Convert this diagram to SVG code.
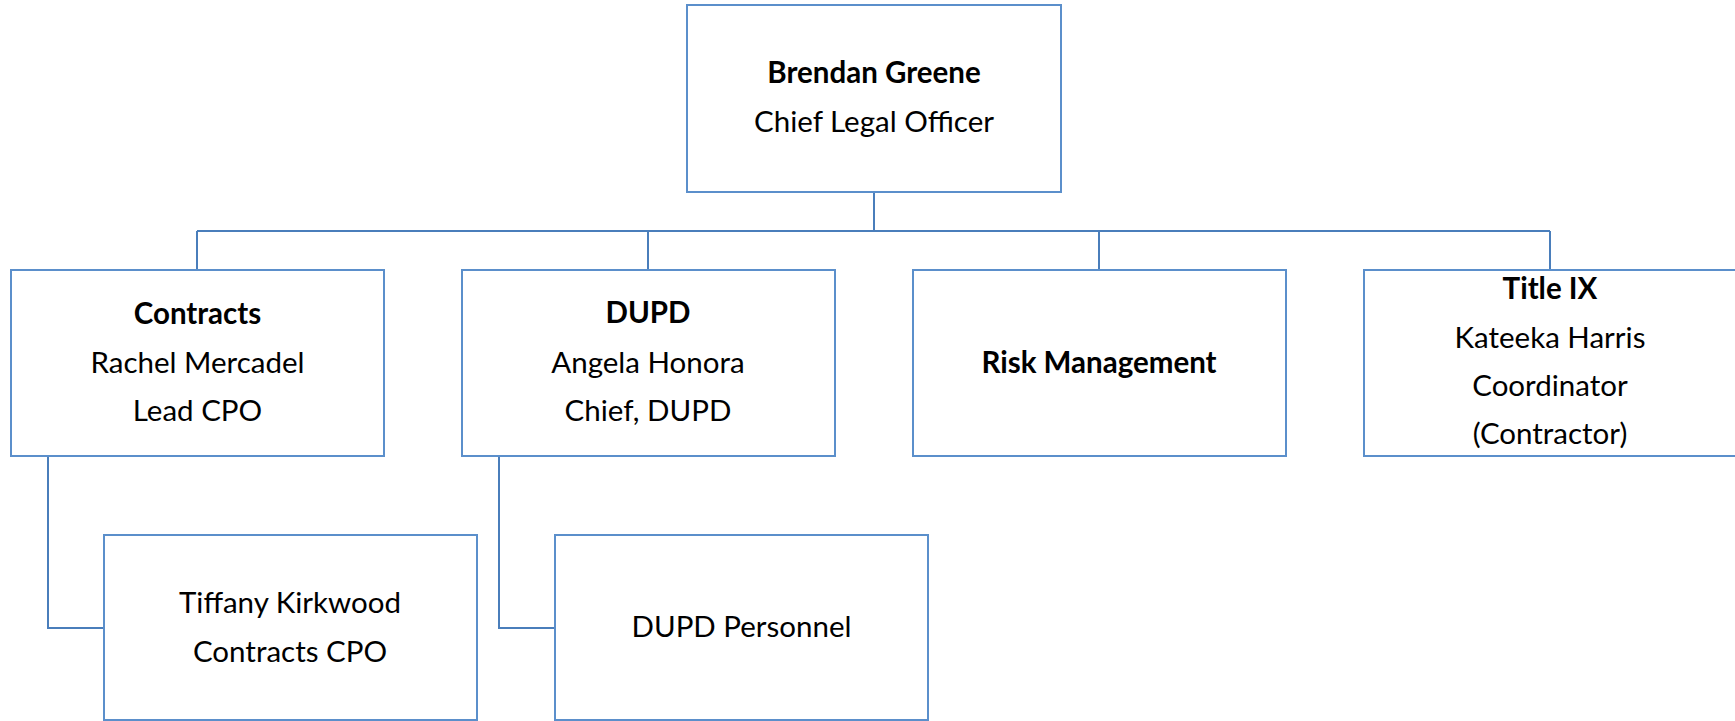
<svg xmlns="http://www.w3.org/2000/svg" width="1735" height="721" viewBox="0 0 1735 721">
<style>
.box{fill:#fff;stroke:#5b8fcb;stroke-width:2}
.con{fill:none;stroke:#4a7ebb;stroke-width:2}
text{font-family:Lato,"Liberation Sans",sans-serif;font-size:29.5px;fill:#000;text-anchor:middle}
.b{font-weight:bold}
</style>
<rect width="1735" height="721" fill="#fff"/>
<g id="connectors">
<path class="con" d="M874 192V231M197 231H1550M197 231V270M648 231V270M1099 231V270M1550 231V270"/>
<path class="con" d="M48 456V628H104"/>
<path class="con" d="M499 456V628H555"/>
</g>
<g id="brendan-greene">
<rect class="box" x="687" y="5" width="374" height="187"/>
<text class="b" x="874" y="83">Brendan Greene</text>
<text x="874" y="132">Chief Legal Officer</text>
</g>
<g id="contracts">
<rect class="box" x="11" y="270" width="373" height="186"/>
<text class="b" x="197.5" y="324">Contracts</text>
<text x="197.5" y="373">Rachel Mercadel</text>
<text x="197.5" y="421">Lead CPO</text>
</g>
<g id="dupd">
<rect class="box" x="462" y="270" width="373" height="186"/>
<text class="b" x="648" y="323">DUPD</text>
<text x="648" y="373">Angela Honora</text>
<text x="648" y="421">Chief, DUPD</text>
</g>
<g id="risk-management">
<rect class="box" x="913" y="270" width="373" height="186"/>
<text class="b" x="1099" y="373">Risk Management</text>
</g>
<g id="title-ix">
<rect class="box" x="1364" y="270" width="373" height="186"/>
<text class="b" x="1550" y="299">Title IX</text>
<text x="1550" y="348">Kateeka Harris</text>
<text x="1550" y="396">Coordinator</text>
<text x="1550" y="444">(Contractor)</text>
</g>
<g id="tiffany-kirkwood">
<rect class="box" x="104" y="535" width="373" height="185"/>
<text x="290" y="613">Tiffany Kirkwood</text>
<text x="290" y="662">Contracts CPO</text>
</g>
<g id="dupd-personnel">
<rect class="box" x="555" y="535" width="373" height="185"/>
<text x="741.5" y="637">DUPD Personnel</text>
</g>
</svg>
